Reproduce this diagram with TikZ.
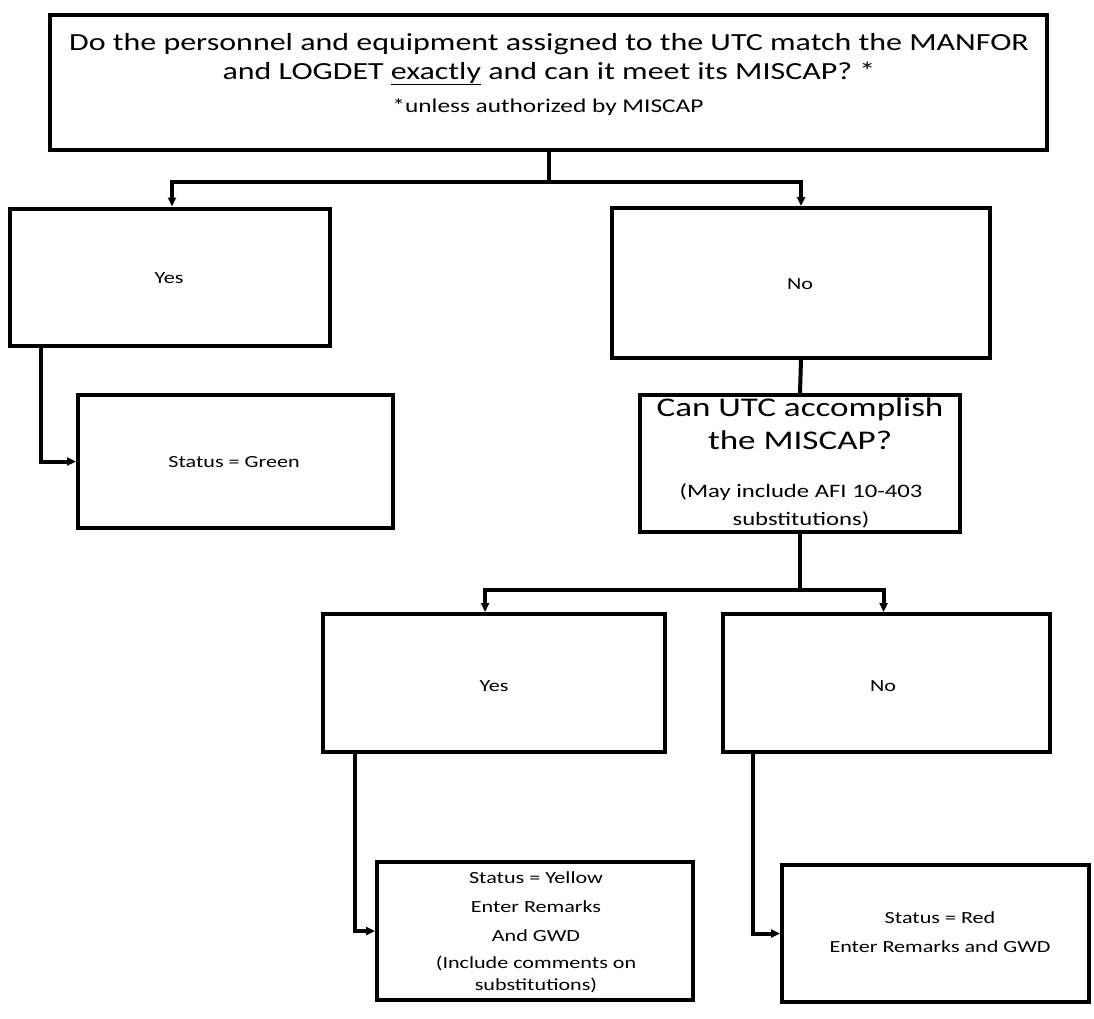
\documentclass[tikz,border=0pt]{standalone}
\usepackage{fontspec}
\setmainfont{Carlito}[FakeStretch=1.3]
\usetikzlibrary{arrows.meta,calc}
\begin{document}
\begin{tikzpicture}[x=1pt,y=-1pt,
  box/.style={draw=black,line width=4pt,rectangle,inner sep=0pt},
  conn/.style={draw=black,line width=4pt},
  arr/.style={conn,-{Triangle[length=9pt,width=8pt]}},
  lbl/.style={inner sep=0pt,align=center,text=black},
  small/.style={lbl,font=\fontsize{17}{29}\selectfont}]
\useasboundingbox (0,0) rectangle (1094,1019);
% boxes
\node[box,minimum width=997pt,minimum height=135pt] (top) at (548.5,82.5) {};
\node[box,minimum width=320pt,minimum height=137pt] (yes) at (170,277) {};
\node[box,minimum width=378pt,minimum height=150pt] (no) at (801,283) {};
\node[box,minimum width=315pt,minimum height=133pt] (green) at (235.5,461.5) {};
\node[box,minimum width=320pt,minimum height=137pt] (can) at (800,463.5) {};
\node[box,minimum width=342pt,minimum height=138pt] (yes2) at (494,683) {};
\node[box,minimum width=327pt,minimum height=138pt] (no2) at (886.5,683) {};
\node[box,minimum width=316pt,minimum height=138pt] (yellow) at (535,931) {};
\node[box,minimum width=307pt,minimum height=137pt] (red) at (935.5,933.5) {};
% texts
\node[lbl,font=\fontsize{24.6}{29}\selectfont] (ttext) at (549,59) {Do the personnel and equipment assigned to the UTC match the MANFOR\\and LOGDET \underline{exactly} and can it meet its MISCAP? *};
\node[lbl,font=\fontsize{19.5}{22}\selectfont] (tnote) at (548,107) {*unless authorized by MISCAP};
\node[small] (tyes) at (169,278) {Yes};
\node[small] (tno) at (800,284) {No};
\node[small] (tgreen) at (234,462) {Status = Green};
\node[lbl,font=\fontsize{27}{33}\selectfont] (tcan) at (800,424) {Can UTC accomplish\\the MISCAP?};
\node[lbl,font=\fontsize{19}{28}\selectfont] (tcan2) at (801,506) {(May include AFI 10-403\\substitutions)};
\node[small] (tyes2) at (494,686) {Yes};
\node[small] (tno2) at (883,686) {No};
\node[small] (tyellow) at (536,907) {Status = Yellow\\Enter Remarks\\And GWD};
\node[lbl,font=\fontsize{17}{22}\selectfont] (tyellow2) at (536,974) {(Include comments on\\substitutions)};
\node[small] (tred) at (940,932.5) {Status = Red\\Enter Remarks and GWD};
% connectors
\coordinate (j1) at ($(top.south)+(0,30)$);
\draw[conn] (top.south) -- (j1);
\draw[arr] (j1) -| ([xshift=2pt]yes.north);
\draw[arr] (j1) -| (no.north);
\draw[arr] ([xshift=33pt]yes.south west) |- (green.west);
\draw[conn] (no.south) -- (can.north);
\coordinate (j2) at ($(can.south)+(0,56)$);
\draw[conn] (can.south) -- (j2);
\draw[arr] (j2) -| ([xshift=-9pt]yes2.north);
\draw[arr] (j2) -| ([xshift=-3pt]no2.north);
\draw[arr] ([xshift=34pt]yes2.south west) |- (yellow.west);
\draw[arr] ([xshift=32pt]no2.south west) |- (red.west);
\end{tikzpicture}
\end{document}
